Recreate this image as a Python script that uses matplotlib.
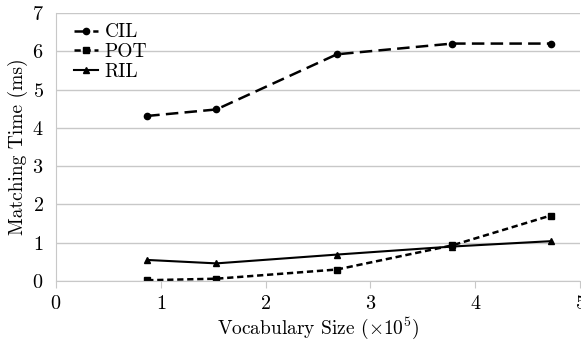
import matplotlib.pyplot as plt

plt.rcParams['font.family'] = 'serif'
plt.rcParams['font.serif'] = ['cmr10', 'DejaVu Serif']
plt.rcParams['mathtext.fontset'] = 'cm'
plt.rcParams['axes.formatter.use_mathtext'] = True

# vocabulary size (x10^5) and matching time (ms)
vocab = [0.87, 1.53, 2.68, 3.78, 4.72]
cil = [4.31, 4.48, 5.92, 6.20, 6.20]
pot = [0.02, 0.06, 0.30, 0.93, 1.71]
ril = [0.55, 0.46, 0.69, 0.90, 1.04]

fig = plt.figure(figsize=(5.81, 3.45), dpi=100)
ax = fig.add_axes([0.0964, 0.1855, 0.902, 0.777])

ax.plot(vocab, cil, color='black', lw=1.8, dashes=(5, 2.5), marker='o', ms=4.5, label='CIL')
ax.plot(vocab, pot, color='black', lw=1.8, dashes=(2.5, 1.5), marker='s', ms=4.5, label='POT')
ax.plot(vocab, ril, color='black', lw=1.5, marker='^', ms=5, label='RIL')

ax.set_xlim(0, 5)
ax.set_ylim(0, 7)
ax.set_xticks(range(6))
ax.set_yticks(range(8))
ax.grid(axis='y', color='#c8c8c8', lw=1)
ax.set_axisbelow(True)
for s in ['top', 'right']:
    ax.spines[s].set_visible(False)
ax.spines['left'].set_color('#c8c8c8')
ax.spines['bottom'].set_color('#c8c8c8')
ax.tick_params(axis='y', length=0, labelsize=14.5, pad=9)
ax.tick_params(axis='x', length=5, color='#c8c8c8', labelsize=14.5, pad=5)

ax.set_xlabel(r'Vocabulary Size ($\times10^5$)', fontsize=14, labelpad=2)
ax.set_ylabel('Matching Time (ms)', fontsize=14, labelpad=3)

ax.legend(loc='upper left', frameon=False, fontsize=14, handlelength=1.2,
          handletextpad=0.35, labelspacing=0.1, borderaxespad=0.0,
          bbox_to_anchor=(0.02, 0.99))

fig.savefig('out.png', dpi=100)
